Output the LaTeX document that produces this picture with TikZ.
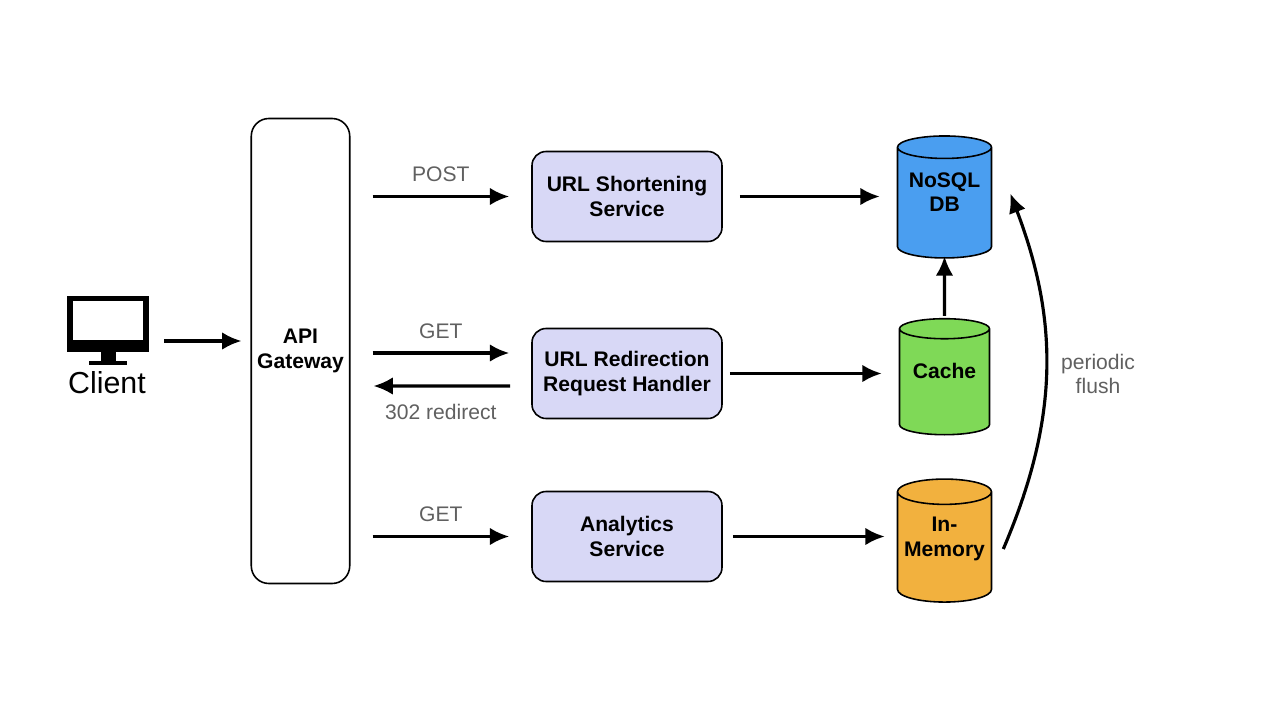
\documentclass[tikz,border=0pt]{standalone}
\usepackage{fontspec}
\setmainfont{Liberation Sans}
\usetikzlibrary{arrows.meta,shapes.geometric,calc}
\definecolor{svcfill}{HTML}{D8D8F6}
\definecolor{dbblue}{HTML}{4A9EF0}
\definecolor{cachegreen}{HTML}{7FD957}
\definecolor{memorange}{HTML}{F2B13E}
\definecolor{lblgray}{HTML}{606060}
\newcommand{\storetext}[1]{\raisebox{0.2cm}[\height][\depth]{\begin{tabular}{@{}c@{}}#1\end{tabular}}}

\begin{document}
\begin{tikzpicture}
    \tikzset{service/.style = {draw, rounded corners=8pt, fill=svcfill, line width=0.9pt, minimum width=3.8cm, minimum height=1.8cm, align=center, font=\bfseries\large}}
    \tikzset{store/.style = {draw, cylinder, shape border rotate=90, aspect=0.3, line width=0.9pt, inner sep=1pt, font=\bfseries\large}}
    \tikzset{flow/.style = {-{Latex[length=11pt,width=10pt]}, line width=1.8pt}}
    \tikzset{lbl/.style = {text=lblgray, font=\large}}

    \useasboundingbox (0,0) rectangle (25.6,14.42);

    % client
    \node[fill=black, minimum width=1.64cm, minimum height=1.12cm, inner sep=0] (mon) at (2.16,7.95) {};
    \fill[white] ($(mon.south west)+(0.12,0.24)$) rectangle ($(mon.north east)+(-0.12,-0.12)$);
    \fill[black] ($(mon.south)+(-0.15,0)$) rectangle ($(mon.south)+(0.15,-0.18)$);
    \fill[black] ($(mon.south)+(-0.38,-0.18)$) rectangle ($(mon.south)+(0.38,-0.26)$);
    \node[font=\LARGE] (client) at (2.14,6.76) {Client};

    % gateway and services
    \node[draw, rounded corners=10pt, line width=0.9pt, minimum width=1.8cm, minimum height=9.3cm, align=center, font=\bfseries\large] (gw) at (6.01,7.4) {API\\Gateway};
    \node[service] (shorten) at (12.54,10.49) {URL Shortening\\Service};
    \node[service] (redir) at (12.54,6.95) {URL Redirection\\Request Handler};
    \node[service] (stats) at (12.54,3.69) {Analytics\\Service};

    % stores
    \node[store, fill=dbblue, minimum width=1.88cm, minimum height=2.44cm] (db) at (18.89,10.33) {\storetext{NoSQL\\DB}};
    \node[store, fill=cachegreen, minimum width=1.8cm, minimum height=2.32cm] (cache) at (18.89,6.75) {\storetext{Cache}};
    \node[store, fill=memorange, minimum width=1.88cm, minimum height=2.46cm] (mem) at (18.89,3.44) {\storetext{In-\\Memory}};

    % connectors
    \draw[flow, shorten <=0.3cm, shorten >=0.18cm] (mon.east |- 0,7.6) -- (gw.west |- 0,7.6);
    \draw[flow, shorten <=0.44cm, shorten >=0.44cm] (gw.east |- shorten.west) -- node[lbl, above=4pt]{POST} (shorten.west);
    \draw[flow, shorten <=0.44cm, shorten >=0.44cm] (gw.east |- 0,7.36) -- node[lbl, above=4pt]{GET} ($(redir.west)+(0,0.41)$);
    \draw[flow, shorten <=0.42cm, shorten >=0.46cm] ($(redir.west)+(0,-0.25)$) -- node[lbl, below=6pt]{302 redirect} (gw.east |- 0,6.7);
    \draw[flow, shorten <=0.44cm, shorten >=0.44cm] (gw.east |- stats.west) -- node[lbl, above=4pt]{GET} (stats.west);
    \draw[flow, shorten <=0.34cm, shorten >=0.34cm] (shorten.east) -- (shorten.east -| db.west);
    \draw[flow, shorten <=0.14cm, shorten >=0.34cm] (redir.east) -- (redir.east -| cache.west);
    \draw[flow, shorten <=0.2cm, shorten >=0.24cm] (stats.east) -- (stats.east -| mem.west);
    \draw[flow, shorten <=0.04cm, shorten >=-0.05cm] (cache.north) -- (db.south);
    \draw[flow] ($(mem.east)+(0.22,-0.0)$) to[bend right=22] ($(db.east)+(0.36,0.22)$);
    \node[lbl, align=center] (flush) at (21.96,6.94) {periodic\\flush};
\end{tikzpicture}
\end{document}
